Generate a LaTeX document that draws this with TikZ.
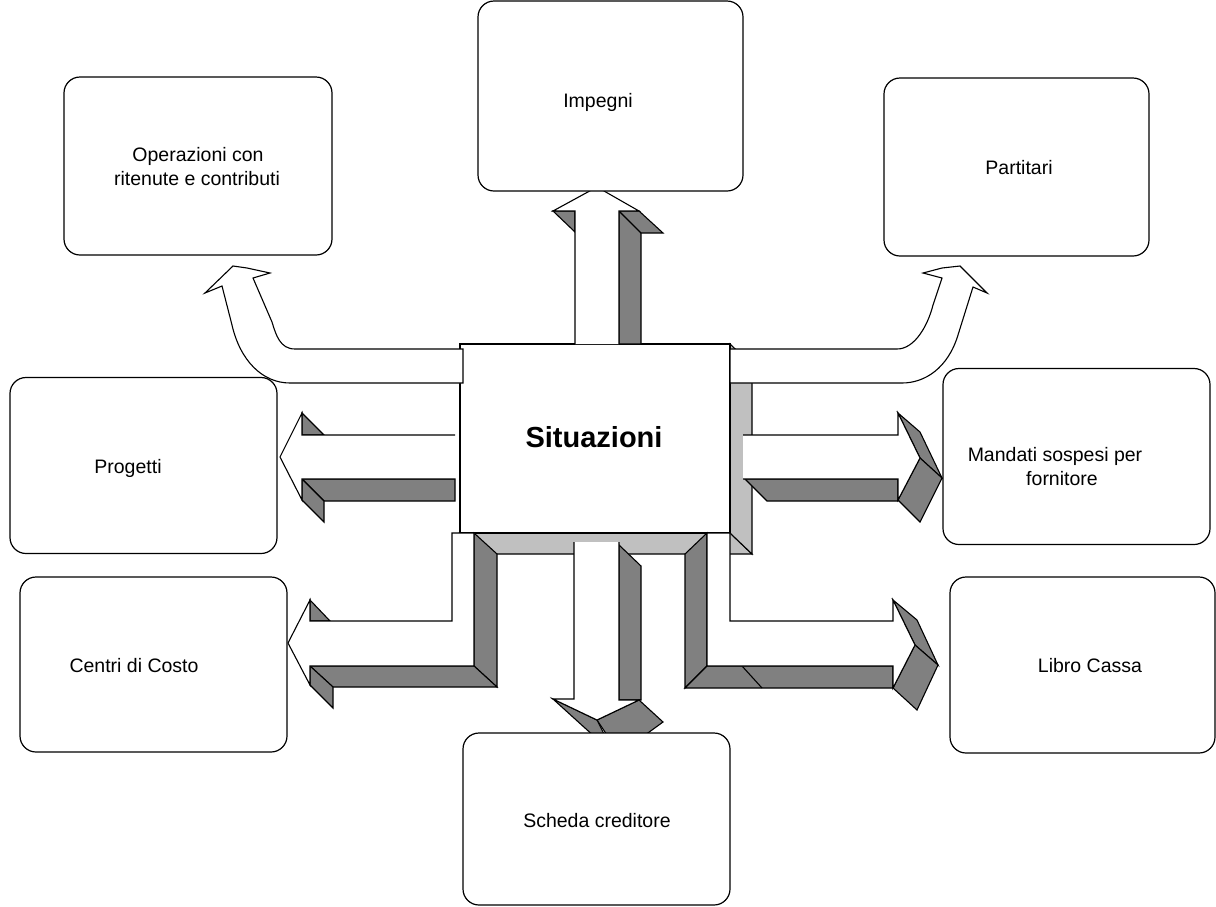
\documentclass[tikz,border=0pt]{standalone}
\usepackage{fontspec}
\setmainfont{Liberation Sans}
\definecolor{dkgray}{HTML}{808080}
\definecolor{ltgray}{HTML}{C0C0C0}
\begin{document}
\begin{tikzpicture}[x=1pt,y=-1pt,
  every node/.style={inner sep=0pt, outer sep=0pt},
  card/.style={draw, fill=white, rounded corners=16pt, line width=1.2pt},
  lbl/.style={font=\fontsize{19.5}{24}\selectfont, anchor=base},
  face/.style={draw, fill=white, line width=1.1pt, line join=miter},
  shade/.style={draw, fill=dkgray, line width=1.1pt, line join=miter},
  pale/.style={draw, fill=ltgray, line width=1.1pt, line join=miter}]

\fill[white] (0,0) rectangle (1216,906);
\useasboundingbox (0,0) rectangle (1216,906);

% central block: bottom and side faces, then the front face
\path[pale] (460,533)--(730,533)--(752,554)--(482,554)--cycle;
\path[pale] (730,344)--(752,365)--(752,554)--(730,533)--cycle;
\node[draw, fill=white, line width=1.1pt, minimum width=270pt, minimum height=189pt] (sit) at (595,438.5) {};
\node[font=\fontsize{29}{34}\selectfont\bfseries, anchor=base] (sittxt) at (594,447) {Situazioni};

% upward arrow
\path[shade] (619,211)--(641,232)--(641,344)--(619,344)--cycle;
\path[shade] (619,211)--(639,211)--(663,233)--(641,233)--cycle;
\path[shade] (553,211)--(575,211)--(575,232)--cycle;
\draw[face] (575,344)--(575,211)--(553,211)--(597,187)--(639,211)--(619,211)--(619,344);

% left arrow
\path[shade] (302,479)--(455,479)--(455,501)--(324,501)--cycle;
\path[shade] (302,479)--(324,501)--(324,522)--(302,500)--cycle;
\path[shade] (302,413)--(302,435)--(324,435)--cycle;
\draw[face] (455,435)--(302,435)--(302,413)--(280,457)--(302,500)--(302,479)--(455,479);

% curved arrow, upper left
\draw[face] (463,349)--(295,349) .. controls (280,349) and (276,335) .. (272,322)
  --(253,278)--(270,273)--(247,268)--(233,266)--(205,293)--(222,286)--(232,325)
  .. controls (240,360) and (262,383) .. (290,383)--(463,383)--cycle;

% curved arrow, upper right
\draw[face] (730,349)--(897,349) .. controls (915,349) and (928,325) .. (933,305)
  --(942,278)--(923,273)--(942,268)--(960,266)--(987,293)--(973,287)--(958,335)
  .. controls (948,368) and (925,383) .. (902,383)--(730,383)--cycle;

% right arrow
\path[shade] (745,479)--(898,479)--(898,501)--(767,501)--cycle;
\path[shade] (898,413)--(920,432)--(942,478)--(920,458)--cycle;
\path[shade] (898,500)--(920,458)--(942,478)--(920,522)--cycle;
\draw[face] (743,435)--(898,435)--(898,413)--(920,458)--(898,500)--(898,479)--(743,479);

% L-shaped arrow, lower left
\path[shade] (474,533)--(497,554)--(497,687)--(474,666)--cycle;
\path[shade] (310,666)--(474,666)--(497,687)--(333,687)--cycle;
\path[shade] (310,666)--(333,687)--(333,708)--(310,685)--cycle;
\path[shade] (310,600)--(310,621)--(330,621)--cycle;
\draw[face] (452,533)--(452,621)--(310,621)--(310,600)--(288,643)--(310,685)
  --(310,666)--(474,666)--(474,533)--cycle;

% L-shaped arrow, lower right
\path[shade] (707,533)--(685,554)--(685,688)--(707,666)--cycle;
\path[shade] (685,688)--(707,666)--(893,666)--(893,688)--cycle;
\draw[line width=1.1pt] (742,666)--(762,688);
\path[shade] (893,600)--(917,620)--(938,665)--(915,645)--cycle;
\path[shade] (893,688)--(915,645)--(938,665)--(917,710)--cycle;
\draw[face] (707,533)--(730,533)--(730,621)--(893,621)--(893,600)--(915,645)
  --(893,688)--(893,666)--(707,666)--cycle;

% downward arrow
\path[shade] (619,545)--(641,566)--(641,700)--(619,700)--cycle;
\path[shade] (597,720)--(639,700)--(663,722)--(641,738)--(609,738)--cycle;
\path[shade] (553,699)--(597,720)--(606,738)--(596,738)--cycle;
\draw[face] (574,542)--(574,699)--(553,699)--(597,720)--(639,700)--(619,700)--(619,542);

% surrounding cards
\node[card, minimum width=268pt, minimum height=178pt] (oper) at (198,166) {};
\node[card, minimum width=265pt, minimum height=190pt] (imp) at (610.5,96) {};
\node[card, minimum width=265pt, minimum height=178pt] (part) at (1016.5,167) {};
\node[card, minimum width=267pt, minimum height=176pt] (prog) at (143.5,465.5) {};
\node[card, minimum width=267pt, minimum height=176pt] (mand) at (1076.5,456.5) {};
\node[card, minimum width=267pt, minimum height=175pt] (cent) at (153.5,664.5) {};
\node[card, minimum width=265pt, minimum height=176pt] (libro) at (1082.5,665) {};
\node[card, minimum width=267pt, minimum height=172pt] (sched) at (596.5,819) {};

\node[lbl] (opA) at (198,161) {Operazioni con};
\node[lbl] (opB) at (197,185) {ritenute e contributi};
\node[lbl] (impT) at (598,107) {Impegni};
\node[lbl] (partT) at (1019,174) {Partitari};
\node[lbl] (progT) at (128,473) {Progetti};
\node[lbl] (mandA) at (1055,461) {Mandati sospesi per};
\node[lbl] (mandB) at (1062,485) {fornitore};
\node[lbl] (centT) at (134,672) {Centri di Costo};
\node[lbl] (libroT) at (1090,672) {Libro Cassa};
\node[lbl] (schedT) at (597,827) {Scheda creditore};
\end{tikzpicture}
\end{document}
